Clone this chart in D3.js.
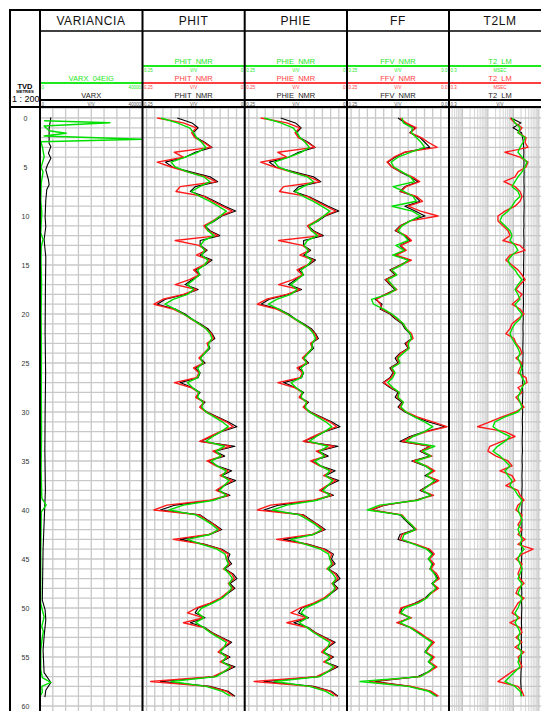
<!DOCTYPE html>
<html>
<head>
<meta charset="utf-8">
<script src="https://cdn.jsdelivr.net/npm/d3@7"></script>
<style>
  html, body { margin: 0; padding: 0; background: #fff; }
  svg { display: block; font-family: "Liberation Sans", Arial, Helvetica, sans-serif; }
</style>
</head>
<body>
<div id="chart"></div>
<script>
// ---- data ----
// sampling depth of the NMR curves, metres TVD
var depthStep = 0.5;
var depths = d3.range(0, 59.01, depthStep);
var depthTicks = [0, 5, 10, 15, 20, 25, 30, 35, 40, 45, 50, 55, 60];

var trackTitles = ["VARIANCIA", "PHIT", "PHIE", "FF", "T2LM"];

// VARIANCIA track, own depth samples
var varxEigDepth = [0.28, 0.48, 0.82, 1.3, 1.56, 1.84, 2.17, 2.42, 2.9, 3.95, 4.8, 5.0, 5.5, 6.6, 8.4, 9.7, 11.7, 12.4, 13.1, 14.5, 17, 20, 24, 28, 32, 36, 38.8, 39.5, 40.2, 44, 49.5, 50.2, 50.9, 51.9, 52.4, 53, 54.3, 56.3, 57.1, 57.6, 58, 58.6, 58.9];
var varxEig = [1600, 27300, 1600, 3600, 10200, 1600, 39900, 300, 900, 1600, 700, 300, 1200, 500, 300, 700, 300, 1200, 500, 400, 600, 450, 550, 500, 600, 450, 700, 2400, 500, 300, 250, 900, 1600, 700, 1300, 900, 300, 300, 900, 4200, 700, 900, 300];
var varxDepth = [-0.07, 1.05, 2.6, 2.9, 3.6, 4.1, 4.8, 5.3, 6.3, 6.8, 7.3, 8.4, 10.1, 11.1, 12.4, 13.5, 14.2, 18, 22, 26, 30, 34, 38, 40, 44, 49.2, 50.2, 51.2, 52.9, 54.3, 56.6, 57.6, 58.4, 59.1];
var varx = [4240, 3560, 3560, 4240, 3300, 4240, 2900, 2260, 3300, 3560, 2650, 2260, 2000, 2260, 1600, 2000, 2260, 2100, 2000, 2200, 2000, 1900, 2100, 1800, 1200, 900, 2000, 2260, 1600, 1200, 1600, 4240, 2260, 1900];

// PHIT, V/V
var phitBlack = [0.165,0.129,0.114,0.126,0.119,0.097,0.080,0.121,0.146,0.194,0.177,0.133,0.085,0.066,0.121,0.133,0.097,0.073,0.049,0.022,0.056,0.073,0.097,0.085,0.061,0.109,0.109,0.092,0.109,0.080,0.097,0.121,0.109,0.129,0.146,0.114,0.146,0.194,0.214,0.170,0.146,0.129,0.109,0.090,0.080,0.073,0.090,0.085,0.097,0.109,0.097,0.121,0.109,0.114,0.158,0.129,0.109,0.119,0.097,0.109,0.092,0.066,0.041,0.019,0.056,0.080,0.109,0.024,0.073,0.049,0.090,0.066,0.032,0.056,0.022,0.049,0.066,0.036,0.080,0.170,0.206,0.109,0.092,0.073,0.056,0.085,0.158,0.097,0.056,0.036,0.041,0.032,0.049,0.029,0.019,0.036,0.024,0.041,0.056,0.080,0.114,0.121,0.097,0.133,0.097,0.080,0.056,0.032,0.049,0.061,0.036,0.056,0.024,0.049,0.073,0.206,0.085,0.041,0.024];
var phitRed = [0.214,0.150,0.118,0.130,0.122,0.100,0.082,0.172,0.150,0.214,0.180,0.140,0.095,0.070,0.158,0.168,0.100,0.078,0.055,0.030,0.060,0.078,0.100,0.090,0.065,0.170,0.112,0.095,0.118,0.085,0.100,0.125,0.112,0.135,0.170,0.118,0.150,0.200,0.222,0.175,0.150,0.132,0.112,0.094,0.082,0.076,0.092,0.088,0.100,0.112,0.100,0.125,0.112,0.118,0.172,0.132,0.112,0.120,0.100,0.110,0.095,0.070,0.045,0.028,0.060,0.085,0.110,0.035,0.078,0.055,0.092,0.070,0.040,0.060,0.030,0.052,0.070,0.040,0.085,0.190,0.222,0.112,0.095,0.075,0.060,0.088,0.175,0.100,0.060,0.040,0.045,0.036,0.052,0.032,0.025,0.040,0.028,0.045,0.060,0.085,0.118,0.140,0.100,0.150,0.100,0.082,0.060,0.036,0.052,0.065,0.040,0.060,0.030,0.052,0.078,0.230,0.090,0.045,0.028];
var phitGreen = [0.205,0.165,0.135,0.125,0.118,0.105,0.095,0.115,0.145,0.180,0.170,0.140,0.100,0.085,0.110,0.130,0.110,0.085,0.065,0.045,0.060,0.075,0.095,0.090,0.075,0.100,0.108,0.098,0.105,0.090,0.098,0.115,0.110,0.125,0.140,0.125,0.140,0.175,0.195,0.170,0.150,0.130,0.112,0.095,0.085,0.080,0.088,0.088,0.098,0.108,0.102,0.115,0.110,0.115,0.140,0.128,0.112,0.115,0.102,0.105,0.095,0.075,0.055,0.040,0.058,0.078,0.095,0.050,0.070,0.058,0.082,0.068,0.045,0.055,0.038,0.050,0.062,0.045,0.075,0.150,0.185,0.120,0.098,0.080,0.065,0.085,0.140,0.105,0.068,0.048,0.045,0.040,0.050,0.038,0.030,0.038,0.032,0.042,0.055,0.078,0.105,0.115,0.100,0.120,0.100,0.085,0.065,0.045,0.050,0.060,0.045,0.055,0.035,0.050,0.070,0.180,0.095,0.055,0.035];

// PHIE, V/V
var phieBlack = [0.162,0.126,0.112,0.123,0.116,0.094,0.078,0.118,0.143,0.190,0.174,0.130,0.082,0.064,0.118,0.130,0.094,0.070,0.046,0.020,0.053,0.070,0.094,0.082,0.058,0.106,0.106,0.089,0.106,0.077,0.094,0.118,0.106,0.126,0.143,0.111,0.143,0.190,0.210,0.167,0.143,0.126,0.106,0.087,0.077,0.070,0.087,0.082,0.094,0.106,0.094,0.118,0.106,0.111,0.155,0.126,0.106,0.116,0.094,0.106,0.089,0.063,0.038,0.017,0.053,0.077,0.106,0.022,0.070,0.046,0.087,0.063,0.029,0.053,0.020,0.046,0.063,0.033,0.077,0.167,0.203,0.106,0.089,0.070,0.053,0.082,0.155,0.094,0.053,0.033,0.038,0.029,0.046,0.026,0.017,0.033,0.022,0.038,0.053,0.077,0.111,0.118,0.094,0.130,0.094,0.077,0.053,0.029,0.046,0.058,0.033,0.053,0.022,0.046,0.070,0.203,0.082,0.038,0.022];
var phieRed = [0.211,0.147,0.115,0.127,0.119,0.097,0.079,0.169,0.147,0.211,0.177,0.137,0.092,0.067,0.155,0.165,0.097,0.075,0.052,0.027,0.057,0.075,0.097,0.087,0.062,0.167,0.109,0.092,0.115,0.082,0.097,0.122,0.109,0.132,0.167,0.115,0.147,0.197,0.219,0.172,0.147,0.129,0.109,0.091,0.079,0.073,0.089,0.085,0.097,0.109,0.097,0.122,0.109,0.115,0.169,0.129,0.109,0.117,0.097,0.107,0.092,0.067,0.042,0.025,0.057,0.082,0.107,0.032,0.075,0.052,0.089,0.067,0.037,0.057,0.027,0.049,0.067,0.037,0.082,0.187,0.219,0.109,0.092,0.072,0.057,0.085,0.172,0.097,0.057,0.037,0.042,0.033,0.049,0.029,0.022,0.037,0.025,0.042,0.057,0.082,0.115,0.137,0.097,0.147,0.097,0.079,0.057,0.033,0.049,0.062,0.037,0.057,0.027,0.049,0.075,0.227,0.087,0.042,0.025];
var phieGreen = [0.202,0.162,0.132,0.122,0.115,0.102,0.092,0.112,0.142,0.177,0.167,0.137,0.097,0.082,0.107,0.127,0.107,0.082,0.062,0.042,0.057,0.072,0.092,0.087,0.072,0.097,0.105,0.095,0.102,0.087,0.095,0.112,0.107,0.122,0.137,0.122,0.137,0.172,0.192,0.167,0.147,0.127,0.109,0.092,0.082,0.077,0.085,0.085,0.095,0.105,0.099,0.112,0.107,0.112,0.137,0.125,0.109,0.112,0.099,0.102,0.092,0.072,0.052,0.037,0.055,0.075,0.092,0.047,0.067,0.055,0.079,0.065,0.042,0.052,0.035,0.047,0.059,0.042,0.072,0.147,0.182,0.117,0.095,0.077,0.062,0.082,0.137,0.102,0.065,0.045,0.042,0.037,0.047,0.035,0.027,0.035,0.029,0.039,0.052,0.075,0.102,0.112,0.097,0.117,0.097,0.082,0.062,0.042,0.047,0.057,0.042,0.052,0.032,0.047,0.067,0.177,0.092,0.052,0.032];

// FFV, V/V
var ffBlack = [0.125,0.108,0.083,0.096,0.071,0.059,0.047,0.108,0.132,0.150,0.140,0.120,0.096,0.076,0.108,0.120,0.083,0.071,0.108,0.083,0.059,0.096,0.120,0.132,0.108,0.096,0.120,0.108,0.132,0.096,0.120,0.145,0.132,0.157,0.145,0.132,0.157,0.181,0.164,0.169,0.145,0.132,0.115,0.108,0.096,0.091,0.108,0.100,0.120,0.132,0.125,0.145,0.137,0.145,0.162,0.145,0.125,0.132,0.115,0.125,0.108,0.083,0.051,0.010,0.059,0.096,0.120,0.047,0.071,0.047,0.091,0.059,0.039,0.059,0.027,0.051,0.071,0.042,0.083,0.157,0.189,0.120,0.108,0.096,0.083,0.120,0.125,0.083,0.051,0.039,0.051,0.039,0.047,0.034,0.027,0.042,0.029,0.047,0.059,0.083,0.115,0.120,0.096,0.125,0.096,0.076,0.059,0.039,0.051,0.059,0.039,0.051,0.034,0.051,0.076,0.181,0.096,0.047,0.029];
var ffRed = [0.120,0.105,0.080,0.095,0.068,0.050,0.029,0.110,0.135,0.152,0.140,0.118,0.090,0.072,0.105,0.118,0.080,0.065,0.100,0.070,0.027,0.095,0.118,0.130,0.105,0.092,0.118,0.105,0.130,0.092,0.118,0.142,0.130,0.155,0.142,0.128,0.155,0.178,0.168,0.165,0.142,0.128,0.112,0.105,0.092,0.088,0.105,0.098,0.118,0.128,0.122,0.142,0.135,0.142,0.160,0.142,0.122,0.128,0.112,0.122,0.105,0.078,0.040,0.005,0.055,0.090,0.115,0.045,0.068,0.042,0.088,0.055,0.035,0.055,0.025,0.048,0.068,0.038,0.080,0.160,0.192,0.115,0.105,0.092,0.080,0.115,0.120,0.080,0.048,0.036,0.048,0.036,0.044,0.030,0.024,0.040,0.026,0.044,0.056,0.080,0.118,0.122,0.092,0.128,0.092,0.072,0.056,0.036,0.048,0.056,0.036,0.048,0.030,0.048,0.072,0.195,0.092,0.044,0.026];
var ffGreen = [0.115,0.112,0.090,0.092,0.080,0.068,0.060,0.095,0.125,0.142,0.135,0.115,0.095,0.085,0.137,0.110,0.088,0.080,0.140,0.090,0.070,0.095,0.115,0.125,0.110,0.100,0.130,0.110,0.138,0.100,0.115,0.140,0.128,0.150,0.140,0.130,0.150,0.190,0.185,0.160,0.140,0.125,0.112,0.105,0.095,0.092,0.100,0.098,0.112,0.125,0.120,0.140,0.132,0.138,0.150,0.138,0.122,0.125,0.112,0.118,0.105,0.085,0.060,0.040,0.060,0.088,0.105,0.035,0.065,0.045,0.082,0.058,0.042,0.055,0.035,0.050,0.065,0.045,0.075,0.170,0.200,0.118,0.105,0.092,0.082,0.110,0.115,0.085,0.055,0.042,0.050,0.042,0.046,0.036,0.030,0.040,0.032,0.045,0.055,0.075,0.108,0.118,0.095,0.120,0.095,0.078,0.060,0.042,0.050,0.058,0.042,0.050,0.036,0.050,0.070,0.218,0.100,0.050,0.032];

// T2LM, ms (log)
var t2Black = [81,200,97,210,230,250,255,260,255,262,258,265,262,260,265,262,258,262,265,262,260,258,262,255,258,262,260,255,258,255,252,255,250,248,252,250,245,248,250,245,242,245,240,238,242,240,238,235,240,238,235,232,235,238,232,230,235,232,228,230,232,228,225,230,228,225,222,225,228,222,220,225,222,218,220,222,218,215,220,218,215,212,215,218,215,212,215,210,212,215,212,210,215,212,210,208,212,215,210,212,215,212,210,208,212,210,205,208,210,205,202,205,208,200,198,195,200,205,202];
var t2Red = [74,116,219,152,314,287,376,47,183,376,314,152,116,43,116,183,219,183,116,47,25,25,39,62,74,39,183,287,74,51,89,152,219,287,183,127,219,152,89,183,262,152,89,74,51,107,127,183,219,127,219,183,152,314,344,152,219,127,183,262,116,36,12,4,47,116,36,12,10,21,62,89,30,89,116,51,152,183,262,152,127,219,200,152,219,152,287,152,590,219,127,219,183,152,183,262,152,127,262,152,116,89,183,74,183,219,127,219,116,262,152,183,219,89,47,25,152,219,262];
var t2Green = [89,116,183,152,287,240,183,152,219,344,287,219,152,116,89,152,183,116,89,62,36,30,47,74,89,74,116,152,89,62,74,116,152,219,152,116,152,183,116,152,219,183,116,89,74,89,116,152,183,152,183,219,183,219,287,219,183,152,183,219,152,47,19,16,30,74,47,24,16,30,47,74,47,62,89,74,116,152,219,183,152,183,219,183,152,183,219,183,262,183,152,183,219,183,152,219,183,152,219,183,152,116,152,116,152,183,152,183,152,219,183,152,183,116,74,47,116,183,219];

// ---- layout ----
var W = 541, H = 711;
var frameTop = 10, frameLeft = 10, depthRight = 40;
var titleBottom = 31, headBottom = 107;
var bounds = [40, 142.5, 244.7, 347, 449, 551];
var rowY = { green: 66, red: 83, black: 100 };
var colors = { green: "#00e000", red: "#ff1a1a", black: "#000000" };
var headColors = { green: "#1ee81e", red: "#ff4040", black: "#000000" };

var svg = d3.select("#chart").append("svg")
    .attr("width", W)
    .attr("height", H)
    .attr("viewBox", "0 0 " + W + " " + H);

var y = d3.scaleLinear().domain([0, 60]).range([118, 706]);

function series(dep, vals) {
  return vals.map(function(v, i) { return { d: dep[i], v: v }; });
}

// right-hand scale label of T2LM falls off the sheet in the print, so it is left empty
var tracks = [
  { title: trackTitles[0], log: false, domain: [0, 40000],
    curves: [
      { name: "VARX_04EIG", color: "green", row: "red", data: series(varxEigDepth, varxEig), scale: ["0", "", "40000"] },
      { name: "VARX", color: "black", row: "black", data: series(varxDepth, varx), scale: ["0", "V/V", "40000"] }
    ] },
  { title: trackTitles[1], log: false, domain: [0.25, 0],
    curves: [
      { name: "PHIT_NMR", color: "green", row: "green", data: series(depths, phitGreen), scale: ["0.25", "V/V", "0"] },
      { name: "PHIT_NMR", color: "red", row: "red", data: series(depths, phitRed), scale: ["0.25", "V/V", "0"] },
      { name: "PHIT_NMR", color: "black", row: "black", data: series(depths, phitBlack), scale: ["0.25", "V/V", "0"] }
    ] },
  { title: trackTitles[2], log: false, domain: [0.25, 0],
    curves: [
      { name: "PHIE_NMR", color: "green", row: "green", data: series(depths, phieGreen), scale: ["0.25", "V/V", "0"] },
      { name: "PHIE_NMR", color: "red", row: "red", data: series(depths, phieRed), scale: ["0.25", "V/V", "0"] },
      { name: "PHIE_NMR", color: "black", row: "black", data: series(depths, phieBlack), scale: ["0.25", "V/V", "0"] }
    ] },
  { title: trackTitles[3], log: false, domain: [0.25, 0],
    curves: [
      { name: "FFV_NMR", color: "green", row: "green", data: series(depths, ffGreen), scale: ["0.25", "V/V", "0.0"] },
      { name: "FFV_NMR", color: "red", row: "red", data: series(depths, ffRed), scale: ["0.25", "V/V", "0.0"] },
      { name: "FFV_NMR", color: "black", row: "black", data: series(depths, ffBlack), scale: ["0.25", "V/V", "0.0"] }
    ] },
  { title: trackTitles[4], log: true, domain: [0.3, 3000],
    curves: [
      { name: "T2_LM", color: "green", row: "green", data: series(depths, t2Green), scale: ["0.3", "MSEC", ""] },
      { name: "T2_LM", color: "red", row: "red", data: series(depths, t2Red), scale: ["0.3", "MSEC", ""] },
      { name: "T2_LM", color: "black", row: "black", data: series(depths, t2Black), scale: ["0.3", "V/V", ""] }
    ] }
];

svg.append("defs").append("clipPath").attr("id", "plotclip")
  .append("rect").attr("x", 0).attr("y", headBottom).attr("width", W).attr("height", H - headBottom);

var gridG = svg.append("g").attr("clip-path", "url(#plotclip)");
var curveG = svg.append("g").attr("clip-path", "url(#plotclip)");

var yGrid = d3.range(-1, 61, 1);

tracks.forEach(function(t, i) {
  var x0 = bounds[i], x1 = bounds[i + 1];
  var x = (t.log ? d3.scaleLog() : d3.scaleLinear()).domain(t.domain).range([x0, x1]);
  t.x = x;

  // vertical grid
  var vt = t.log ? x.ticks() : x.ticks(10);
  gridG.selectAll(null).data(vt).enter().append("line")
    .attr("x1", function(d) { return x(d); })
    .attr("x2", function(d) { return x(d); })
    .attr("y1", headBottom).attr("y2", H)
    .attr("stroke", function(d) {
      if (!t.log) return "#c8c8c8";
      var m = d / Math.pow(10, Math.floor(Math.log10(d) + 1e-9));
      return Math.abs(m - 1) < 1e-6 ? "#bcbcbc" : "#d6d6d6";
    })
    .attr("stroke-width", t.log ? 1.1 : 1.3);

  // horizontal grid
  gridG.selectAll(null).data(yGrid).enter().append("line")
    .attr("x1", x0).attr("x2", x1)
    .attr("y1", function(d) { return y(d); })
    .attr("y2", function(d) { return y(d); })
    .attr("stroke", "#c8c8c8").attr("stroke-width", 1.3);

  // curves
  var clipId = "tclip" + i;
  svg.select("defs").append("clipPath").attr("id", clipId)
    .append("rect").attr("x", x0).attr("y", headBottom).attr("width", x1 - x0).attr("height", H - headBottom);
  var tg = curveG.append("g").attr("clip-path", "url(#" + clipId + ")");
  var line = d3.line()
    .x(function(d) { return x(d.v); })
    .y(function(d) { return y(d.d); });
  ["black", "red", "green"].forEach(function(c) {
    t.curves.filter(function(cv) { return cv.color === c; }).forEach(function(cv) {
      tg.append("path")
        .datum(cv.data.filter(function(p) { return p.d != null; }))
        .attr("d", line)
        .attr("fill", "none")
        .attr("stroke", colors[c])
        .attr("stroke-width", c === "black" ? 1.1 : 1.4)
        .attr("stroke-linejoin", "round");
    });
  });

  // header: title
  svg.append("text")
    .attr("x", (x0 + Math.min(x1, x0 + 102)) / 2)
    .attr("y", 24.5)
    .attr("text-anchor", "middle")
    .attr("font-size", 12)
    .attr("letter-spacing", 0.6)
    .attr("fill", "#111")
    .text(t.title);

  // header: curve rows
  t.curves.forEach(function(cv) {
    var ly = rowY[cv.row];
    var cx = (x0 + x1) / 2;
    svg.append("line")
      .attr("x1", x0).attr("x2", x1).attr("y1", ly).attr("y2", ly)
      .attr("stroke", headColors[cv.color]).attr("stroke-width", 2);
    svg.append("text")
      .attr("x", cx).attr("y", ly - 2.5)
      .attr("text-anchor", "middle")
      .attr("font-size", 7.5)
      .attr("fill", cv.color === "black" ? "#222" : headColors[cv.color])
      .text(cv.name);
    var sc = cv.color === "black" ? "#555" : headColors[cv.color];
    svg.append("text").attr("x", x0 + 1.5).attr("y", ly + 5.5)
      .attr("font-size", 4.5).attr("fill", sc).text(cv.scale[0]);
    if (cv.scale[1]) {
      svg.append("text").attr("x", cx).attr("y", ly + 5.5).attr("text-anchor", "middle")
        .attr("font-size", 4.5).attr("fill", sc).text(cv.scale[1]);
    }
    if (cv.scale[2]) {
      svg.append("text").attr("x", x1 - 1.5).attr("y", ly + 5.5).attr("text-anchor", "end")
        .attr("font-size", 4.5).attr("fill", sc).text(cv.scale[2]);
    }
  });
});

// depth axis
var depthAxis = svg.append("g")
  .attr("transform", "translate(25.5,0)")
  .call(d3.axisLeft(y).tickValues(depthTicks).tickSize(0).tickPadding(0));
depthAxis.select(".domain").remove();
depthAxis.selectAll("text")
  .attr("text-anchor", "middle")
  .attr("font-size", 7)
  .attr("font-family", "Liberation Sans, Arial, sans-serif")
  .attr("fill", "#333")
  .attr("dy", "0.35em");

// depth column header
svg.append("text").attr("x", 25).attr("y", 88.5).attr("text-anchor", "middle")
  .attr("font-size", 7.5).attr("font-weight", "bold").text("TVD");
svg.append("text").attr("x", 25).attr("y", 93).attr("text-anchor", "middle")
  .attr("font-size", 4.2).attr("font-weight", "bold").text("METRES");
svg.append("text").attr("x", 12).attr("y", 101.5).attr("font-size", 9).text("1 : 200");

// frame lines
var frame = svg.append("g").attr("stroke", "#000");
frame.append("line").attr("x1", frameLeft - 1).attr("x2", W).attr("y1", frameTop).attr("y2", frameTop).attr("stroke-width", 2);
frame.append("line").attr("x1", frameLeft).attr("x2", frameLeft).attr("y1", frameTop).attr("y2", H).attr("stroke-width", 2);
frame.append("line").attr("x1", depthRight).attr("x2", W).attr("y1", titleBottom).attr("y2", titleBottom).attr("stroke-width", 1.3);
frame.append("line").attr("x1", frameLeft).attr("x2", W).attr("y1", headBottom).attr("y2", headBottom).attr("stroke-width", 2);
bounds.forEach(function(b) {
  frame.append("line").attr("x1", b).attr("x2", b).attr("y1", frameTop).attr("y2", H).attr("stroke-width", 2);
});
</script>
</body>
</html>
